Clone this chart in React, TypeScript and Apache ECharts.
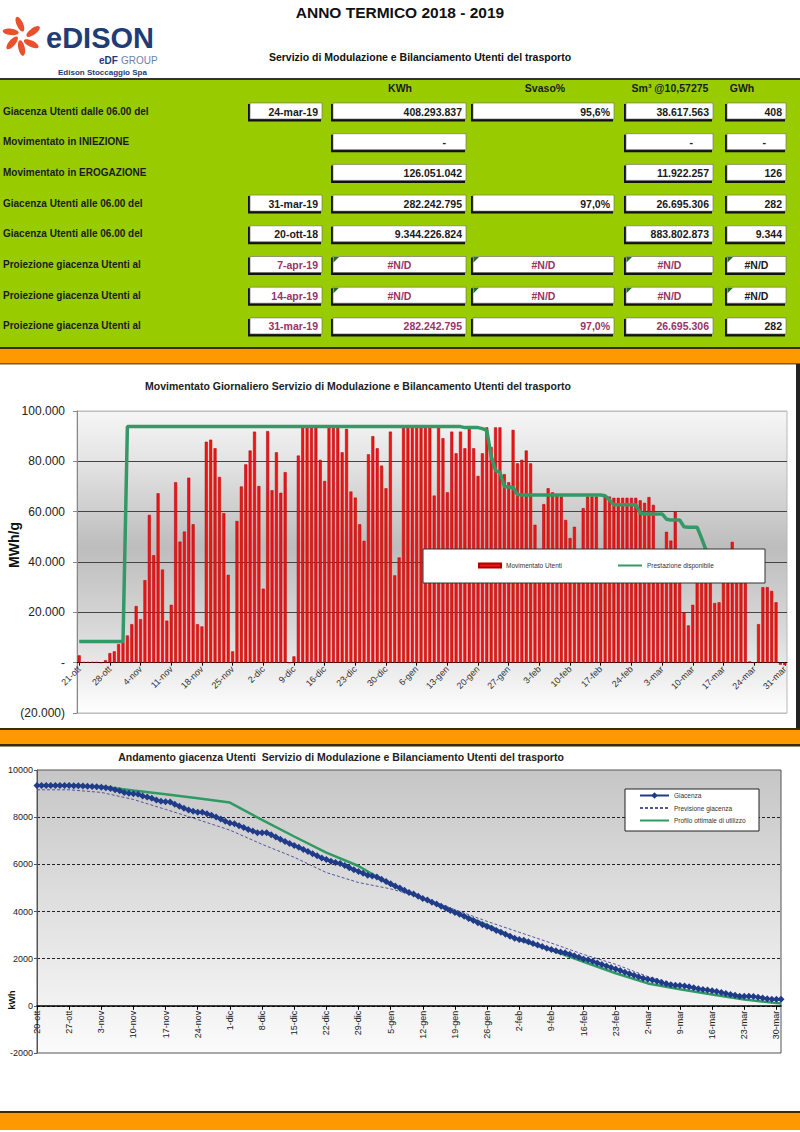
import React, { useEffect, useRef } from 'react';
import * as echarts from 'echarts';

const FONT = '"Liberation Sans", Arial, Helvetica, sans-serif';

// ---------- categories ----------
const MONTHS = ['ott', 'nov', 'dic', 'gen', 'feb', 'mar'];
const MONTH_DAYS = [31, 30, 31, 31, 28, 31];
function buildDates(startDay: number): string[] {
  const out: string[] = [];
  for (let m = 0; m < MONTHS.length; m++) {
    const first = m === 0 ? startDay : 1;
    for (let d = first; d <= MONTH_DAYS[m]; d++) out.push(`${d}-${MONTHS[m]}`);
  }
  return out;
}
const barDays = buildDates(21); // 21-ott .. 31-mar
const stockDays = buildDates(20); // 20-ott .. 31-mar

// ---------- chart 1 data (MWh/g) ----------
const movimentato = [
  2900, 300, 300, 300, 300, 0, 1000, 3800, 4500, 7400,
  8200, 10800, 15300, 22500, 17300, 32800, 58700, 42700, 67300, 37000,
  16700, 23000, 71700, 48100, 52100, 73500, 55000, 15300, 14400, 87800,
  88600, 85200, 73800, 59400, 34900, 4500, 56300, 70000, 78800, 84300,
  91800, 70200, 29400, 92000, 68500, 83600, 67500, 75700, 0, 2500,
  82300, 93500, 93500, 93500, 93500, 80600, 72200, 93500, 93500, 93500,
  83600, 92900, 68000, 65600, 55000, 48400, 82800, 90000, 85200, 78300,
  69300, 91800, 34700, 41800, 93500, 93500, 93500, 93500, 93500, 93500,
  93500, 66400, 93500, 89200, 67700, 91800, 83200, 91800, 85200, 93500,
  85200, 74200, 83200, 93500, 85700, 93500, 93500, 74900, 71700, 92500,
  79200, 80600, 84300, 79200, 54800, 37500, 63000, 69300, 67700, 66700,
  66000, 56700, 49500, 54000, 36000, 61400, 66000, 66000, 66000, 37000,
  66000, 66000, 65500, 65500, 65500, 65500, 65500, 65500, 64500, 63500,
  65800, 62700, 37000, 36000, 52000, 48500, 60000, 36000, 20000, 14800,
  23000, 36000, 38000, 38000, 37000, 23700, 24000, 38000, 38000, 48000,
  37000, 36000, 37000, 500, 0, 15300, 30000, 30000, 28500, 24000,
  -800, -1000,
];

const prestazione = [
  8400, 8400, 8400, 8400, 8400, 8400, 8400, 8400, 8400, 8400, 8400,
  93800, 93800, 93800, 93800, 93800, 93800, 93800, 93800, 93800, 93800,
  93800, 93800, 93800, 93800, 93800, 93800, 93800, 93800, 93800, 93800,
  93800, 93800, 93800, 93800, 93800, 93800, 93800, 93800, 93800, 93800,
  93800, 93800, 93800, 93800, 93800, 93800, 93800, 93800, 93800, 93800,
  93800, 93800, 93800, 93800, 93800, 93800, 93800, 93800, 93800, 93800,
  93800, 93800, 93800, 93800, 93800, 93800, 93800, 93800, 93800, 93800,
  93800, 93800, 93800, 93800, 93800, 93800, 93800, 93800, 93800, 93800,
  93800, 93800, 93800, 93800, 93800, 93800, 93800,
  93400, 93400, 93400, 93400, 93000, 92300, 82000, 76300, 75700, 70000,
  69800, 69600, 66800,
  66600, 66600, 66600, 66600, 66600, 66600, 66600, 66600, 66600, 66600,
  66600, 66600, 66600, 66600, 66600, 66600, 66600, 66600, 66600,
  66300, 64600,
  62700, 62700, 62700, 62700, 62700, 62700,
  59500, 59100, 59100, 59100, 59100, 59100,
  57000, 56700, 56700, 56700,
  54000, 53800, 53800, 53800, 49500, 44800,
  44300, 44300, 44300, 44300, 44300, 44300, 44300, 44300,
];

// ---------- chart 2 data (GWh) ----------
const giacenza = [
  9344, 9341, 9341, 9340, 9340, 9340, 9340, 9339, 9335, 9331,
  9323, 9315, 9304, 9289, 9266, 9249, 9216, 9158, 9115, 9048,
  9011, 8994, 8971, 8899, 8851, 8799, 8726, 8671, 8655, 8641,
  8553, 8464, 8379, 8305, 8246, 8211, 8207, 8150, 8080, 8002,
  7917, 7825, 7755, 7726, 7634, 7565, 7482, 7414, 7339, 7339,
  7336, 7254, 7160, 7067, 6973, 6880, 6799, 6727, 6633, 6540,
  6446, 6363, 6270, 6202, 6136, 6081, 6033, 5950, 5860, 5775,
  5697, 5627, 5536, 5501, 5459, 5366, 5272, 5179, 5085, 4992,
  4898, 4805, 4738, 4645, 4555, 4488, 4396, 4313, 4221, 4136,
  4042, 3957, 3883, 3800, 3706, 3620, 3527, 3433, 3359, 3287,
  3194, 3115, 3035, 2950, 2871, 2816, 2779, 2716, 2646, 2579,
  2512, 2446, 2389, 2340, 2286, 2250, 2188, 2122, 2056, 1990,
  1953, 1887, 1821, 1756, 1690, 1625, 1559, 1494, 1428, 1364,
  1300, 1235, 1167, 1130, 1094, 1042, 994, 934, 898, 878,
  863, 840, 804, 766, 728, 691, 667, 643, 605, 567,
  519, 482, 446, 409, 408, 408, 393, 363, 333, 304,
  280, 281, 282,
];

const weeklyDays = [
  '20-ott', '27-ott', '3-nov', '10-nov', '17-nov', '24-nov', '1-dic', '8-dic', '15-dic', '22-dic',
  '29-dic', '5-gen', '12-gen', '19-gen', '26-gen', '2-feb', '9-feb', '16-feb', '23-feb', '2-mar',
  '9-mar', '16-mar', '23-mar', '30-mar', '31-mar',
];
const previsione = [
  9160, 9160, 9050, 8750, 8330, 7900, 7450, 6850, 6300, 5650,
  5230, 4960, 4580, 4080, 3580, 3120, 2660, 2180, 1760, 1240,
  880, 640, 420, 240, 230,
];
const profilo = [
  9344, 9330, 9300, 9130, 8975, 8800, 8620, 7885, 7180, 6500,
  5930, 5130, 4560, 3990, 3430, 2790, 2360, 1870, 1380, 950,
  700, 480, 270, 115, 100,
];

// ---------- table ----------
const rowLabels = [
  'Giacenza Utenti dalle 06.00 del',
  'Movimentato in INIEZIONE',
  'Movimentato in EROGAZIONE',
  'Giacenza Utenti alle 06.00 del',
  'Giacenza Utenti alle 06.00 del',
  'Proiezione giacenza Utenti al',
  'Proiezione giacenza Utenti al',
  'Proiezione giacenza Utenti al',
];
const rowDates = ['24-mar-19', '', '', '31-mar-19', '20-ott-18', '7-apr-19', '14-apr-19', '31-mar-19'];
const rowKwh = ['408.293.837', '-', '126.051.042', '282.242.795', '9.344.226.824', '#N/D', '#N/D', '282.242.795'];
const rowSvaso = ['95,6%', '', '', '97,0%', '', '#N/D', '#N/D', '97,0%'];
const rowSm3 = ['38.617.563', '-', '11.922.257', '26.695.306', '883.802.873', '#N/D', '#N/D', '26.695.306'];
const rowGwh = ['408', '-', '126', '282', '9.344', '#N/D', '#N/D', '282'];
const tableHeaders = ['KWh', 'Svaso%', 'Sm³ @10,57275', 'GWh'];

const thousands = (n: number) => String(Math.round(n)).replace(/\B(?=(\d{3})+(?!\d))/g, '.');

function buildGraphics(): any[] {
  const els: any[] = [];
  const text = (x: number, y: number, t: string, size: number, opts: any = {}) => {
    els.push({
      type: 'text',
      x,
      y,
      rotation: opts.rotation || 0,
      z: opts.z || 1,
      style: {
        text: t,
        fill: opts.color || '#1a1a1a',
        font: `${opts.weight || 'bold'} ${size}px ${FONT}`,
        textAlign: opts.align || 'left',
        textVerticalAlign: 'middle',
      },
    });
  };
  const rect = (x: number, y: number, w: number, h: number, fill: string, extra: any = {}) => {
    els.push({ type: 'rect', shape: { x, y, width: w, height: h }, style: { fill, ...(extra.style || {}) }, z: extra.z || 0 });
  };

  // header
  text(400, 12, 'ANNO TERMICO 2018 - 2019', 15.5, { align: 'center', color: '#111' });
  text(420, 57, 'Servizio di Modulazione e Bilanciamento Utenti del trasporto', 10.5, { align: 'center', color: '#111' });

  // logo
  const cx = 22, cy = 36;
  const angles = [100, 160, 215, 268, 320, 22];
  angles.forEach((a) => {
    const r = (a * Math.PI) / 180;
    els.push({
      type: 'ellipse',
      x: cx + 12 * Math.cos(r),
      y: cy - 12 * Math.sin(r),
      rotation: r + 0.25,
      shape: { cx: 0, cy: 0, rx: 8, ry: 3.2 },
      style: { fill: '#e8502e' },
    });
  });
  text(46, 38, 'eDISON', 29, { color: '#1f3c74' });
  text(99, 60, 'eDF', 10, { color: '#1f3c74' });
  text(121, 60, 'GROUP', 10, { color: '#6b7fa8', weight: 'normal' });
  text(58, 72, 'Edison Stoccaggio Spa', 8, { color: '#1f3c74' });

  // green table
  rect(0, 78, 800, 2, '#333');
  rect(0, 80, 800, 267, '#99cc00');
  rect(0, 347, 800, 2, '#3d2b00');
  rect(0, 349, 800, 14, '#ff9900');
  rect(0, 363, 800, 1.5, '#7a5a20');

  const headerX = [400, 545, 670, 742];
  tableHeaders.forEach((h, k) => text(headerX[k], 88, h, 10.5, { align: 'center', color: '#1a1a1a' }));

  const boxX = { date: [250, 72], kwh: [333, 133], svaso: [473, 141], sm3: [626, 87], gwh: [727, 59] } as any;
  const purple = '#993366';
  const drawBox = (col: string, yc: number, t: string, color: string, tri: boolean) => {
    const [x, w] = boxX[col];
    const h = 16;
    const y = yc - 8;
    rect(x - 2, y + 1, w + 1, h + 1.5, '#111');
    els.push({ type: 'rect', shape: { x, y, width: w, height: h }, style: { fill: '#fff', stroke: '#666', lineWidth: 0.6 } });
    if (tri) {
      els.push({ type: 'polygon', shape: { points: [[x + 0.5, y + 0.5], [x + 6, y + 0.5], [x + 0.5, y + 6]] }, style: { fill: '#1f6f1f' } });
    }
    let tx = x + w - 4;
    let align = 'right';
    if (t === '#N/D') { tx = x + w / 2; align = 'center'; }
    if (t === '-') { tx = x + w - 20; }
    text(tx, yc + 0.5, t, 10.5, { align, color });
  };

  rowLabels.forEach((lab, r) => {
    const yc = 111 + r * 30.7;
    text(3, yc, lab, 10, { color: '#1a1a1a' });
    const proj = r >= 5;
    const tri = r === 5 || r === 6;
    if (rowDates[r]) drawBox('date', yc, rowDates[r], proj ? purple : '#1a1a1a', false);
    if (rowKwh[r]) drawBox('kwh', yc, rowKwh[r], proj ? purple : '#1a1a1a', tri);
    if (rowSvaso[r]) drawBox('svaso', yc, rowSvaso[r], proj ? purple : '#1a1a1a', tri);
    if (rowSm3[r]) drawBox('sm3', yc, rowSm3[r], proj ? purple : '#1a1a1a', tri);
    if (rowGwh[r]) drawBox('gwh', yc, rowGwh[r], '#1a1a1a', tri);
  });

  // middle panel
  text(358, 386, 'Movimentato Giornaliero Servizio di Modulazione e Bilancamento Utenti del trasporto', 10.5, { align: 'center', color: '#222' });
  text(14, 545, 'MWh/g', 14, { rotation: Math.PI / 2, align: 'center', color: '#111' });
  rect(796, 364, 4, 365, '#222');
  // legend box chart 1
  els.push({ type: 'rect', z: 10, shape: { x: 423, y: 549, width: 342, height: 34 }, style: { fill: '#fff', stroke: '#333', lineWidth: 1 } });

  // separator
  rect(0, 728, 800, 2, '#3d2b00');
  rect(0, 730, 800, 14, '#ff9900');
  rect(0, 744, 800, 2.5, '#3d2b00');

  // bottom panel
  text(341, 757, 'Andamento giacenza Utenti  Servizio di Modulazione e Bilanciamento Utenti del trasporto', 10.5, { align: 'center', color: '#222' });
  text(12, 1000, 'kWh', 9, { rotation: Math.PI / 2, align: 'center', color: '#111' });
  els.push({ type: 'rect', z: 10, shape: { x: 625, y: 789, width: 134, height: 42 }, style: { fill: '#fff', stroke: '#222', lineWidth: 1 } });

  // footer
  rect(0, 1111, 800, 2, '#3d2b00');
  rect(0, 1113, 800, 17, '#ff9900');

  return els;
}

function buildOption(): any {
  const grad1 = new echarts.graphic.LinearGradient(0, 0, 0, 1, [
    { offset: 0, color: '#f6f6f6' },
    { offset: 0.18, color: '#e2e2e2' },
    { offset: 0.45, color: '#bdbdbd' },
    { offset: 0.72, color: '#d8d8d8' },
    { offset: 1, color: '#ffffff' },
  ]);
  const grad2 = new echarts.graphic.LinearGradient(0, 0, 0, 1, [
    { offset: 0, color: '#c6c6c6' },
    { offset: 1, color: '#fbfbfb' },
  ]);
  const legendText = { fontSize: 6.5, color: '#333', fontFamily: FONT };
  const g1Height = 302;
  const g2Height = 283;
  return {
    animation: false,
    backgroundColor: '#ffffff',
    textStyle: { fontFamily: FONT },
    grid: [
      { left: 77, top: 411, width: 710, height: g1Height, show: true, backgroundColor: grad1, borderColor: '#b8b8b8', borderWidth: 1, outerBoundsMode: 'none' },
      { left: 37, top: 770, width: 744, height: g2Height, show: true, backgroundColor: grad2, borderColor: '#555', borderWidth: 1, outerBoundsMode: 'none' },
    ],
    xAxis: [
      {
        gridIndex: 0,
        type: 'category',
        data: barDays,
        boundaryGap: true,
        position: 'bottom',
        offset: -(g1Height * 20000) / 120000,
        axisLine: { onZero: false, lineStyle: { color: '#000', width: 1 } },
        axisTick: { show: true, interval: 6, alignWithLabel: true, length: 3, lineStyle: { color: '#000' } },
        axisLabel: { interval: 6, rotate: 45, fontSize: 9, color: '#333', fontFamily: FONT, margin: 5 },
        splitLine: { show: false },
      },
      {
        gridIndex: 1,
        type: 'category',
        data: stockDays,
        boundaryGap: false,
        position: 'bottom',
        offset: -(g2Height * 2000) / 12000,
        axisLine: { onZero: false, lineStyle: { color: '#000', width: 1.5 } },
        axisTick: { show: true, interval: 6, length: 4, lineStyle: { color: '#000' } },
        axisLabel: { interval: 6, rotate: 90, fontSize: 9, color: '#222', fontFamily: FONT, margin: 5 },
        splitLine: { show: false },
      },
    ],
    yAxis: [
      {
        gridIndex: 0,
        type: 'value',
        min: -20000,
        max: 100000,
        interval: 20000,
        axisLine: { show: true, lineStyle: { color: '#888' } },
        axisTick: { show: true, length: 4, lineStyle: { color: '#888' } },
        axisLabel: {
          fontSize: 12,
          color: '#222',
          fontFamily: FONT,
          margin: 12,
          formatter: (v: number) => (v === 0 ? '-' : v < 0 ? `(${thousands(-v)})` : thousands(v)),
        },
        splitLine: { show: true, lineStyle: { color: ['#c0c0c0', '#444', '#444', '#444', '#444', '#444', '#c0c0c0'], width: 1 } },
      },
      {
        gridIndex: 1,
        type: 'value',
        min: -2000,
        max: 10000,
        interval: 2000,
        axisLine: { show: true, lineStyle: { color: '#555' } },
        axisTick: { show: true, length: 3, lineStyle: { color: '#555' } },
        axisLabel: { fontSize: 9, color: '#222', fontFamily: FONT, margin: 4, formatter: (v: number) => String(v) },
        splitLine: {
          show: true,
          lineStyle: { color: ['rgba(0,0,0,0)', '#222', '#222', '#222', '#222', '#222', 'rgba(0,0,0,0)'], type: [3, 2], width: 1 },
        },
      },
    ],
    legend: [
      { data: ['Movimentato Utenti'], left: 478, top: 562, padding: 0, itemWidth: 22, itemHeight: 4, icon: 'rect', textStyle: legendText, selectedMode: false, z: 20 },
      {
        data: [{ name: 'Prestazione disponibile', itemStyle: { opacity: 0 } }],
        left: 617, top: 562, padding: 0, itemWidth: 24, itemHeight: 6, textStyle: legendText, selectedMode: false, z: 20,
      },
      {
        data: [
          { name: 'Giacenza' },
          { name: 'Previsione giacenza', itemStyle: { opacity: 0 } },
          { name: 'Profilo ottimale di utilizzo', itemStyle: { opacity: 0 } },
        ],
        orient: 'vertical',
        left: 639,
        top: 792,
        padding: 0,
        itemWidth: 29,
        itemHeight: 8,
        itemGap: 5.5,
        textStyle: legendText,
        selectedMode: false,
        z: 20,
      },
    ],
    series: [
      {
        type: 'bar',
        name: 'Movimentato Utenti',
        xAxisIndex: 0,
        yAxisIndex: 0,
        data: movimentato,
        barWidth: 3,
        itemStyle: { color: '#f01414', borderColor: '#b00000', borderWidth: 0.5 },
      },
      {
        type: 'line',
        name: 'Prestazione disponibile',
        xAxisIndex: 0,
        yAxisIndex: 0,
        data: prestazione,
        symbol: 'none',
        z: 3,
        lineStyle: { color: '#339966', width: 3.5 },
        itemStyle: { color: '#339966' },
      },
      {
        type: 'line',
        name: 'Previsione giacenza',
        xAxisIndex: 1,
        yAxisIndex: 1,
        data: weeklyDays.map((d, k) => [d, previsione[k]]),
        symbol: 'none',
        lineStyle: { color: '#55559a', width: 1, type: [3, 2] },
        itemStyle: { color: '#55559a' },
      },
      {
        type: 'line',
        name: 'Profilo ottimale di utilizzo',
        xAxisIndex: 1,
        yAxisIndex: 1,
        data: weeklyDays.map((d, k) => [d, profilo[k]]),
        symbol: 'none',
        lineStyle: { color: '#2f9a62', width: 2.5 },
        itemStyle: { color: '#2f9a62' },
      },
      {
        type: 'line',
        name: 'Giacenza',
        xAxisIndex: 1,
        yAxisIndex: 1,
        data: giacenza,
        symbol: 'diamond',
        symbolSize: 7,
        showAllSymbol: true,
        lineStyle: { color: '#1f3b8a', width: 2 },
        itemStyle: { color: '#1f3b8a' },
      },
    ],
    graphic: { elements: buildGraphics() },
  };
}

export default function App() {
  const ref = useRef<HTMLDivElement>(null);
  useEffect(() => {
    if (!ref.current) return;
    const chart = echarts.init(ref.current, undefined, { renderer: 'svg', width: 800, height: 1132 });
    chart.setOption(buildOption());
    return () => chart.dispose();
  }, []);
  return (
    <div
      ref={ref}
      style={{ position: 'absolute', left: 0, top: 0, width: 800, height: 1132, background: '#fff' }}
    />
  );
}
